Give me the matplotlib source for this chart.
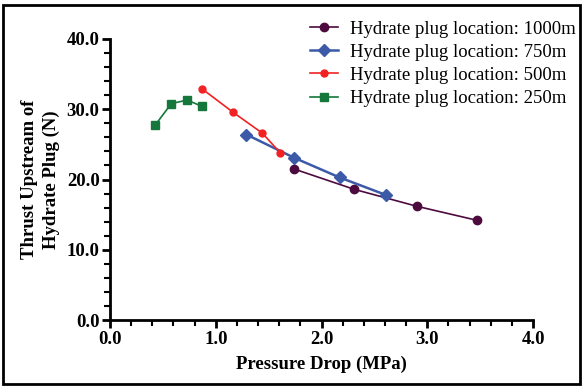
import numpy as np
import matplotlib
matplotlib.use('Agg')
import matplotlib.pyplot as plt
from matplotlib.patches import Rectangle
from matplotlib.ticker import MultipleLocator, FormatStrFormatter

plt.rcParams['font.family'] = ['Liberation Serif', 'DejaVu Serif']

#%% data
x_1000 = [1.74, 2.31, 2.90, 3.47]
y_1000 = [21.5, 18.6, 16.2, 14.2]
x_750 = [1.29, 1.74, 2.17, 2.61]
y_750 = [26.4, 23.1, 20.3, 17.8]
x_500 = [0.87, 1.16, 1.44, 1.61]
y_500 = [32.9, 29.6, 26.6, 23.8]
x_250 = [0.43, 0.58, 0.73, 0.87]
y_250 = [27.8, 30.8, 31.3, 30.4]

labels = ['Hydrate plug location: 1000m', 'Hydrate plug location: 750m',
          'Hydrate plug location: 500m', 'Hydrate plug location: 250m']

#%% plot
fig = plt.figure(figsize=(5.83, 3.89), dpi=100)
ax = fig.add_axes([0.1887, 0.177, 0.7256, 0.723])

ax.plot(x_1000, y_1000, '-o', color='#4d0a3e', lw=1.2, ms=6, label=labels[0])
ax.plot(x_750, y_750, '-D', color='#3c5aa8', lw=1.8, ms=6, label=labels[1])
ax.plot(x_500, y_500, '-o', color='#f22222', lw=1.2, ms=5, label=labels[2])
ax.plot(x_250, y_250, '-s', color='#15773b', lw=1.2, ms=6, label=labels[3])

ax.set_xlim(0, 4)
ax.set_ylim(0, 40)
ax.xaxis.set_major_locator(MultipleLocator(1))
ax.xaxis.set_minor_locator(MultipleLocator(0.2))
ax.yaxis.set_major_locator(MultipleLocator(10))
ax.yaxis.set_minor_locator(MultipleLocator(2))
ax.xaxis.set_major_formatter(FormatStrFormatter('%.1f'))
ax.yaxis.set_major_formatter(FormatStrFormatter('%.1f'))

for s in ['top', 'right']:
    ax.spines[s].set_visible(False)
for s in ['left', 'bottom']:
    ax.spines[s].set_linewidth(2)
ax.tick_params(which='major', direction='out', length=6, width=2,
               labelsize=13.5, pad=1.5)
ax.tick_params(which='minor', direction='out', length=4, width=1.5)
for t in ax.get_xticklabels() + ax.get_yticklabels():
    t.set_fontweight('bold')

ax.set_xlabel('Pressure Drop (MPa)', fontsize=13.5, fontweight='bold', labelpad=6)
ax.set_ylabel('Thrust Upstream of\nHydrate Plug (N)', fontsize=13.5,
              fontweight='bold', labelpad=5, linespacing=1.35)

ax.legend(loc='upper right', bbox_to_anchor=(1.14, 1.125), frameon=False,
          fontsize=13.5, handlelength=1.5, handletextpad=0.6, labelspacing=0.32)

fig.add_artist(Rectangle((0.006, 0.012), 0.988, 0.976, transform=fig.transFigure,
                         fill=False, edgecolor='black', lw=2))

fig.savefig('out.png', dpi=100)
